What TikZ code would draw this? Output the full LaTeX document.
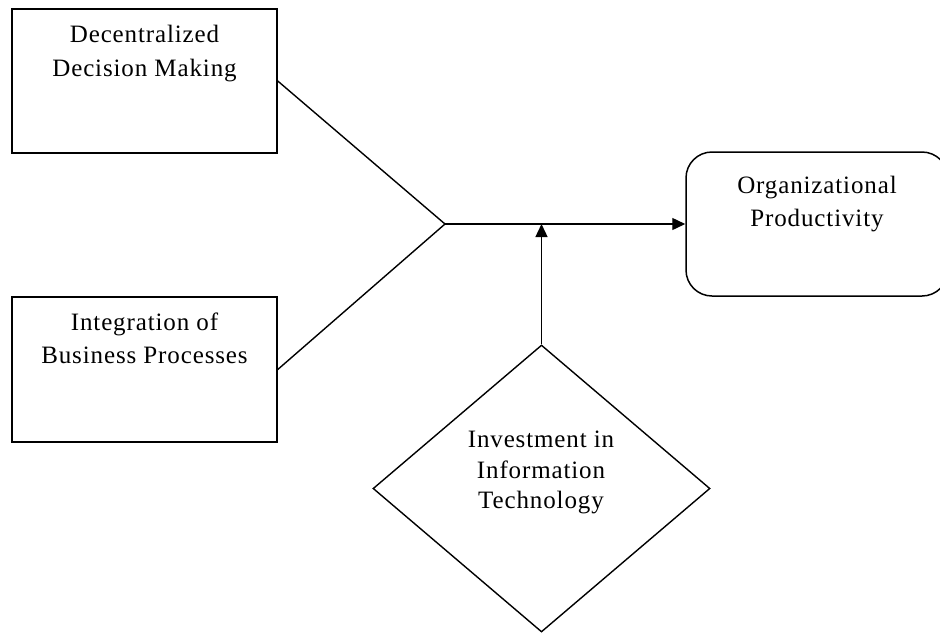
\documentclass[tikz,border=0pt]{standalone}
\usepackage{fontspec}
\setmainfont{Liberation Serif}[LetterSpace=3.5]
\usetikzlibrary{arrows.meta,shapes.geometric}
\begin{document}
\begin{tikzpicture}[x=1pt,y=-1pt,
  box/.style={draw, line width=1.5pt, minimum width=265pt, minimum height=144pt, inner sep=0pt},
  rbox/.style={box, rounded corners=26pt, minimum width=262pt},
  dia/.style={draw, line width=1.4pt, diamond, minimum width=337pt, minimum height=287pt, inner sep=0pt},
  txt/.style={anchor=base, inner sep=0pt, font=\fontsize{25}{29}\selectfont},
  conn/.style={line width=1.4pt},
  arr/.style={conn, -{Triangle[length=13pt,width=12pt]}}]
\useasboundingbox (0,0) rectangle (940,633);
\node[box] (b1) at (144.5,81) {};
\node[box, minimum height=145pt] (b2) at (144.5,369.5) {};
\node[rbox] (org) at (817,224) {};
\node[dia] (it) at (541.5,488.5) {};
\coordinate (j) at (445,224);
\coordinate (m) at (541.5,224);
\node[txt] (t1a) at (144.5,42) {Decentralized};
\node[txt] (t1b) at (144.5,76) {Decision Making};
\node[txt] (t2a) at (144.5,330) {Integration of};
\node[txt] (t2b) at (144.5,363) {Business Processes};
\node[txt] (t3a) at (817,193) {Organizational};
\node[txt] (t3b) at (817,226) {Productivity};
\node[txt] (t4a) at (541,447) {Investment in};
\node[txt] (t4b) at (541,478) {Information};
\node[txt] (t4c) at (541,508) {Technology};
\draw[conn] (b1.east) -- (j);
\draw[conn] (b2.east) -- (j);
\draw[arr] (j) -- (org.west);
\draw[arr] (it.north) -- (m);
\end{tikzpicture}
\end{document}
